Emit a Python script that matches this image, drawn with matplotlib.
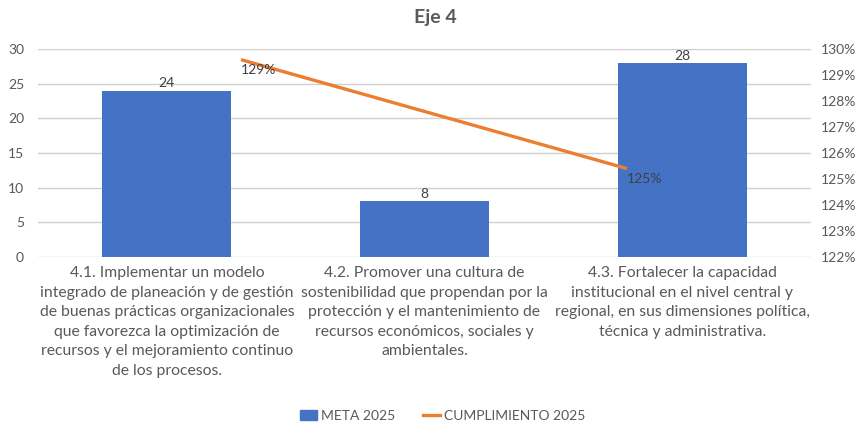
import numpy as np
import matplotlib.pyplot as plt
from matplotlib.patches import Patch
from matplotlib.lines import Line2D

plt.rcParams['font.family'] = ['Lato', 'DejaVu Sans']

categorias = [
    "4.1. Implementar un modelo\nintegrado de planeación y de gestión\nde buenas prácticas organizacionales\nque favorezca la optimización de\nrecursos y el mejoramiento continuo\nde los procesos.",
    "4.2. Promover una cultura de\nsostenibilidad que propendan por la\nprotección y el mantenimiento de\nrecursos económicos, sociales y\nambientales.",
    "4.3. Fortalecer la capacidad\ninstitucional en el nivel central y\nregional, en sus dimensiones política,\ntécnica y administrativa.",
]
meta = [24, 8, 28]
cumplimiento = [1.296, 1.254]
cumpl_labels = ["129%", "125%"]

azul = "#4472C4"
naranja = "#ED7D31"
gris_txt = "#595959"

fig = plt.figure(figsize=(8.6, 4.28), dpi=100)
W, H = 860, 428
left, right, top, bottom = 38, 811, 49.3, 256.7
rect = [left / W, 1 - bottom / H, (right - left) / W, (bottom - top) / H]

ax = fig.add_axes(rect)
x = np.arange(len(meta))
bars = ax.bar(x, meta, width=0.5, color=azul, zorder=2)
ax.set_xlim(-0.5, 2.5)
ax.set_ylim(0, 30)
ax.set_yticks(range(0, 31, 5))
ax.grid(axis='y', color='#d0d0d0', linewidth=1, zorder=0)
for s in ax.spines.values():
    s.set_visible(False)
ax.tick_params(axis='both', length=0, labelsize=10, colors=gris_txt)
ax.tick_params(axis='y', pad=10)
ax.set_xticks(x)
ax.set_xticklabels(categorias, fontsize=11.3, color=gris_txt, linespacing=1.5, va='top')
ax.tick_params(axis='x', pad=7)
for b, v in zip(bars, meta):
    ax.text(b.get_x() + b.get_width() / 2, v + 0.2, str(v), ha='center', va='bottom',
            fontsize=10, color='#404040')

# linea en eje secundario (x propio, 2 categorias)
ax2 = fig.add_axes(rect, facecolor='none')
xl = np.arange(len(cumplimiento))
ax2.plot(xl, cumplimiento, color=naranja, linewidth=2.4, solid_capstyle='butt', zorder=3)
ax2.set_xlim(-0.526, 1.477)
ax2.set_ylim(1.22, 1.30)
ax2.set_yticks(np.arange(1.22, 1.3001, 0.01))
ax2.yaxis.set_major_formatter(plt.FuncFormatter(lambda v, p: f"{v * 100:.0f}%"))
ax2.yaxis.tick_right()
ax2.set_xticks([])
for s in ax2.spines.values():
    s.set_visible(False)
ax2.tick_params(axis='y', length=0, labelsize=10, colors=gris_txt, pad=7)
for xi, v, lab in zip(xl, cumplimiento, cumpl_labels):
    ax2.annotate(lab, (xi, v), xytext=(0, -3), textcoords='offset points',
                 ha='left', va='top', fontsize=10, color='#404040')

fig.suptitle("Eje 4", x=435 / W, y=1 - 18 / H, va='center', fontsize=14,
             fontweight='bold', color=gris_txt)

handles = [Patch(facecolor=azul, edgecolor=azul),
           Line2D([0], [0], color=naranja, linewidth=2.4)]
fig.legend(handles, ["META 2025", "CUMPLIMIENTO 2025"], loc='center',
           bbox_to_anchor=(443 / W, 1 - 416 / H), ncol=2, frameon=False,
           fontsize=10, labelcolor=gris_txt, handlelength=1.2, handletextpad=0.3,
           columnspacing=2.0)

fig.savefig("out.png", dpi=100)
